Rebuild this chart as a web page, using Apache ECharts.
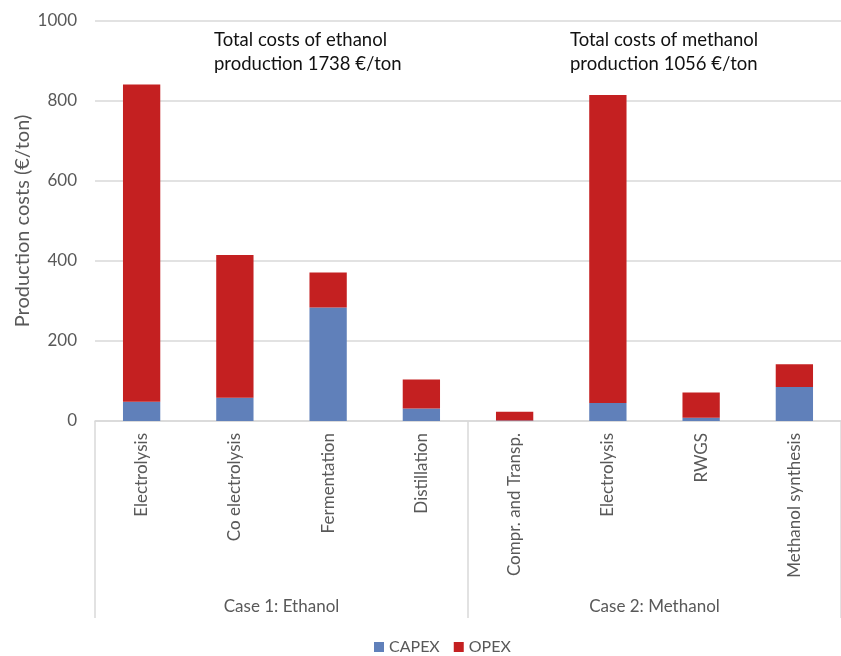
<!DOCTYPE html>
<html>
<head>
<meta charset="utf-8">
<script src="https://cdn.jsdelivr.net/npm/echarts@6/dist/echarts.min.js"></script>
<style>
  html, body { margin: 0; padding: 0; background: #fff; }
  #chart { width: 841px; height: 656px; }
</style>
</head>
<body>
<div id="chart"></div>
<script>
// Process steps (x categories) and the two case groups beneath them
const steps = ['Electrolysis', 'Co electrolysis', 'Fermentation', 'Distillation',
               'Compr. and Transp.', 'Electrolysis', 'RWGS', 'Methanol synthesis'];
const cases = ['Case 1: Ethanol', 'Case 2: Methanol'];

// Cost split per step, €/ton
const capex = [48, 58, 284, 31, 1, 45, 8, 85];
const opex  = [793, 357, 87, 73, 22, 770, 63, 57];

// Annotated totals per case
const totalEthanol = 1738;
const totalMethanol = 1056;

const FONT = 'Lato';
const GREY_TXT = '#595959';
const GRID_LINE = '#d9d9d9';

const chart = echarts.init(document.getElementById('chart'));
chart.setOption({
  animation: false,
  textStyle: { fontFamily: FONT },
  grid: { left: 95, right: -10, top: 21, bottom: 235, containLabel: false },
  legend: {
    bottom: -4,
    left: 369,
    itemWidth: 10,
    itemHeight: 10,
    itemGap: 14,
    icon: 'rect',
    textStyle: { fontFamily: FONT, fontSize: 16, color: GREY_TXT },
    data: ['CAPEX', 'OPEX']
  },
  xAxis: [
    {
      type: 'category',
      data: steps,
      axisLine: { show: true, lineStyle: { color: GRID_LINE, width: 1.5 } },
      axisTick: { show: false },
      axisLabel: { rotate: 90, margin: 12, fontSize: 17, color: GREY_TXT, fontFamily: FONT, interval: 0 }
    },
    {
      type: 'category',
      position: 'bottom',
      data: cases,
      axisLine: { show: false },
      axisTick: { show: true, length: 197, lineStyle: { color: GRID_LINE, width: 1.5 } },
      axisLabel: { margin: 177, fontSize: 17, color: GREY_TXT, fontFamily: FONT, interval: 0 },
      splitLine: { show: false }
    }
  ],
  yAxis: {
    type: 'value',
    min: 0,
    max: 1000,
    interval: 200,
    name: 'Production costs (€/ton)',
    nameLocation: 'middle',
    nameGap: 62,
    nameMoveOverlap: false,
    nameTextStyle: { fontFamily: FONT, fontSize: 20, color: GREY_TXT },
    axisLine: { show: false },
    axisTick: { show: false },
    axisLabel: { margin: 18, fontSize: 17, color: GREY_TXT, fontFamily: FONT,
                 formatter: v => String(v) },
    splitLine: { lineStyle: { color: GRID_LINE, width: 1.5 } }
  },
  series: [
    {
      name: 'CAPEX', type: 'bar', stack: 'cost', barWidth: '40%',
      itemStyle: { color: '#6080BA' }, data: capex
    },
    {
      name: 'OPEX', type: 'bar', stack: 'cost', barWidth: '40%',
      itemStyle: { color: '#C42021' }, data: opex
    }
  ],
  graphic: [
    {
      type: 'text', left: 214, top: 28,
      style: {
        text: 'Total costs of ethanol\nproduction ' + totalEthanol + ' €/ton',
        font: '18.5px ' + FONT, fill: '#111', lineHeight: 24
      }
    },
    {
      type: 'text', left: 570, top: 28,
      style: {
        text: 'Total costs of methanol\nproduction ' + totalMethanol + ' €/ton',
        font: '18.5px ' + FONT, fill: '#111', lineHeight: 24
      }
    }
  ]
});
</script>
</body>
</html>
